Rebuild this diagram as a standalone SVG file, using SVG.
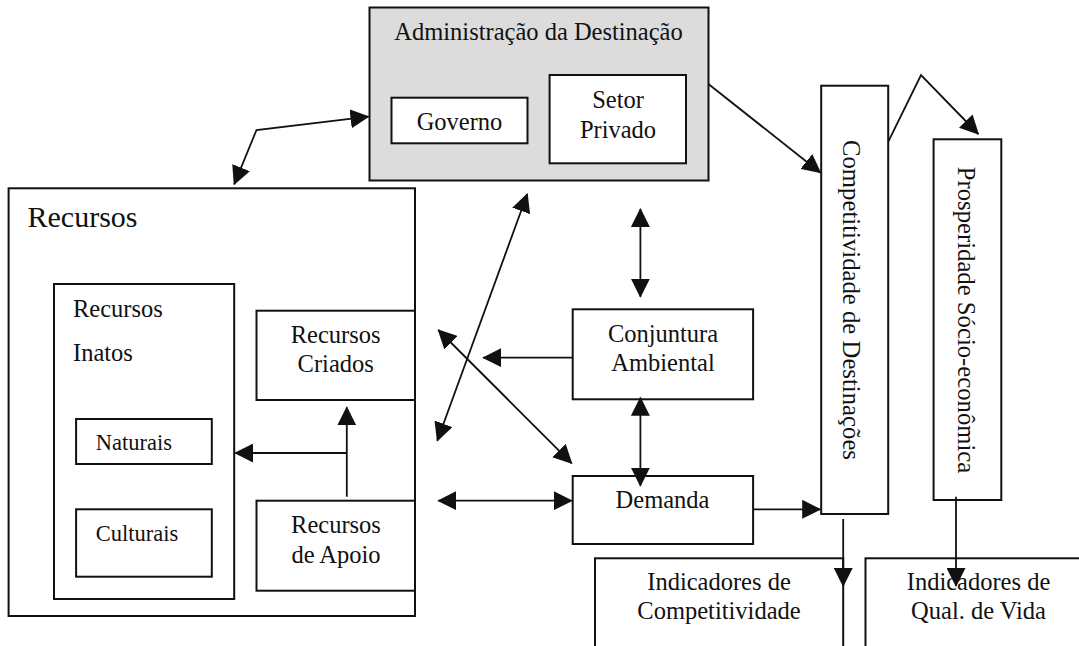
<svg xmlns="http://www.w3.org/2000/svg" width="1079" height="646" viewBox="0 0 1079 646">
<style>
.box{fill:#fff;stroke:#111;stroke-width:2}
.gray{fill:#dcdcdc;stroke:#111;stroke-width:2}
.t{font-family:"Liberation Serif","Times New Roman",serif;font-size:24.5px;fill:#111}
.m{text-anchor:middle}
.sm{font-size:22.5px}
.big{font-size:30px}
.c{fill:none;stroke:#111;stroke-width:1.8}
</style>
<defs>
<marker id="ah" viewBox="0 0 19 19" markerWidth="19" markerHeight="19" markerUnits="userSpaceOnUse" refX="18" refY="9.5" orient="auto-start-reverse">
<path d="M0,0 L19,9.5 L0,19 z" fill="#111"/>
</marker>
</defs>
<rect width="1079" height="646" fill="#fff"/>

<g id="admin">
<rect class="gray" x="369.5" y="7.5" width="339" height="173"/>
<text class="t m" x="538.5" y="40">Administração da Destinação</text>
</g>
<g id="governo">
<rect class="box" x="391.5" y="97.7" width="136" height="45.6"/>
<text class="t m" x="459.5" y="130">Governo</text>
</g>
<g id="setor">
<rect class="box" x="549.6" y="75" width="136.4" height="88.3"/>
<text class="t m" x="618" y="108.3">Setor</text>
<text class="t m" x="618" y="137.7">Privado</text>
</g>

<g id="recursos">
<rect class="box" x="8.6" y="188.3" width="406.4" height="427.7"/>
<text class="t big" x="27.5" y="226.7">Recursos</text>
</g>
<g id="inatos">
<rect class="box" x="54" y="284" width="180.2" height="315"/>
<text class="t" x="73" y="316.5">Recursos</text>
<text class="t" x="73" y="360.7">Inatos</text>
</g>
<g id="naturais">
<rect class="box" x="76.1" y="419" width="135.7" height="45"/>
<text class="t sm" x="95.7" y="450">Naturais</text>
</g>
<g id="culturais">
<rect class="box" x="76.1" y="509.3" width="135.7" height="67.4"/>
<text class="t sm" x="95.7" y="540.7">Culturais</text>
</g>
<g id="criados">
<rect class="box" x="256.5" y="310.7" width="158.5" height="89.3"/>
<text class="t m" x="335.7" y="342.7">Recursos</text>
<text class="t m" x="335.7" y="372.3">Criados</text>
</g>
<g id="apoio">
<rect class="box" x="256.5" y="500.7" width="158.5" height="90"/>
<text class="t m" x="336" y="532.7">Recursos</text>
<text class="t m" x="336" y="562.7">de Apoio</text>
</g>

<g id="conjuntura">
<rect class="box" x="572.7" y="309.3" width="180.4" height="90"/>
<text class="t m" x="663" y="341.7">Conjuntura</text>
<text class="t m" x="663" y="371">Ambiental</text>
</g>
<g id="demanda">
<rect class="box" x="572.7" y="476" width="180.4" height="68"/>
<text class="t m" x="662.5" y="508.3">Demanda</text>
</g>

<g id="competitividade">
<rect class="box" x="821.2" y="85.7" width="67" height="428.3"/>
<text class="t" font-size="29" transform="translate(843.3,140) rotate(90)" textLength="320" lengthAdjust="spacingAndGlyphs">Competitividade de Destinações</text>
</g>
<g id="prosperidade">
<rect class="box" x="933.6" y="139.3" width="67.7" height="360.7"/>
<text class="t" font-size="29" transform="translate(958.3,166.7) rotate(90)" textLength="306.6" lengthAdjust="spacingAndGlyphs">Prosperidade Sócio-econômica</text>
</g>

<g id="ind-comp">
<rect class="box" x="595" y="558.3" width="248.2" height="120"/>
<text class="t m" x="719" y="590">Indicadores de</text>
<text class="t m" x="719" y="619.3">Competitividade</text>
</g>
<g id="ind-vida">
<rect class="box" x="865.5" y="558.3" width="250" height="120"/>
<text class="t m" x="978.5" y="590">Indicadores de</text>
<text class="t m" x="978.5" y="619.3">Qual. de Vida</text>
</g>

<g id="connectors">
<polyline class="c" points="234.2,184.3 256.5,130 368.5,116.7" marker-start="url(#ah)" marker-end="url(#ah)"/>
<line class="c" x1="437.3" y1="440.7" x2="527.3" y2="194" marker-start="url(#ah)" marker-end="url(#ah)"/>
<line class="c" x1="438.3" y1="330" x2="571.7" y2="463.3" marker-start="url(#ah)" marker-end="url(#ah)"/>
<line class="c" x1="572.7" y1="357.7" x2="483.3" y2="357.7" marker-end="url(#ah)"/>
<line class="c" x1="438.3" y1="500.7" x2="571.7" y2="500.7" marker-start="url(#ah)" marker-end="url(#ah)"/>
<line class="c" x1="640.4" y1="209" x2="640.4" y2="296.7" marker-start="url(#ah)" marker-end="url(#ah)"/>
<line class="c" x1="640.4" y1="397.7" x2="640.4" y2="485.7" marker-start="url(#ah)" marker-end="url(#ah)"/>
<line class="c" x1="346.8" y1="496.7" x2="346.8" y2="407.3" marker-end="url(#ah)"/>
<line class="c" x1="346.8" y1="453" x2="235.2" y2="453" marker-end="url(#ah)"/>
<line class="c" x1="708.4" y1="84" x2="820.5" y2="172.7" marker-end="url(#ah)"/>
<polyline class="c" points="888.3,141.7 921,75 978.3,134" marker-end="url(#ah)"/>
<line class="c" x1="753.1" y1="509.3" x2="820.2" y2="509.3" marker-end="url(#ah)"/>
<line class="c" x1="843.2" y1="519" x2="843.2" y2="586" marker-end="url(#ah)"/>
<line class="c" x1="956" y1="496.7" x2="956" y2="586" marker-end="url(#ah)"/>
</g>
</svg>
